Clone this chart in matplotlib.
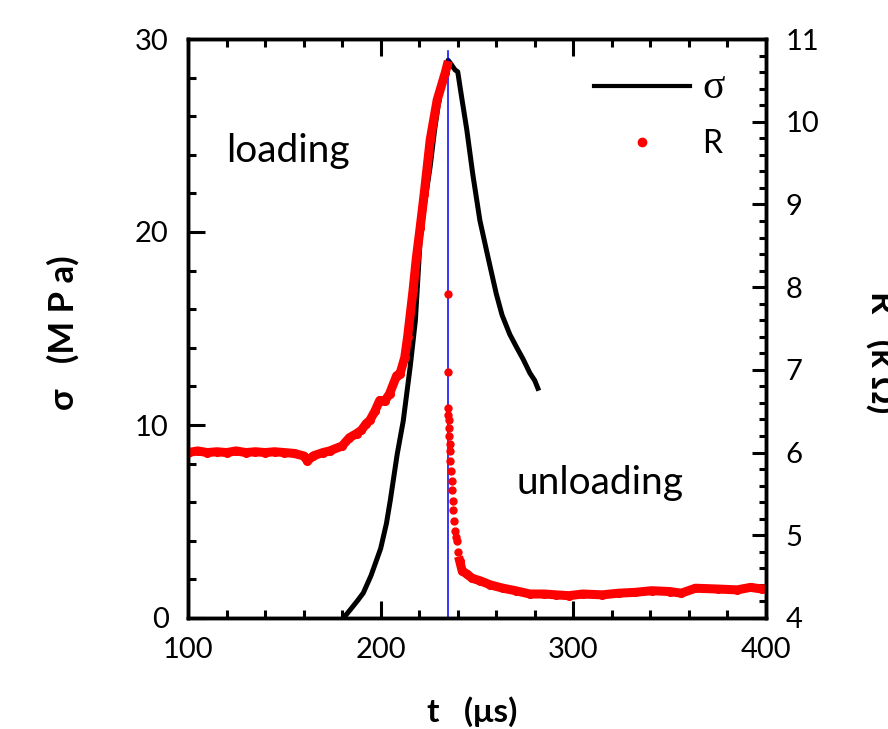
import matplotlib.pyplot as plt
import matplotlib.ticker as mt

plt.rcParams['font.family'] = ['Lato', 'DejaVu Sans']

# stress sigma (MPa) vs time (us)
t_sig = [180.7, 184, 188, 191, 195, 200, 203, 205, 208.6, 211.7, 215.3, 218, 220.5,
         223, 225.7, 228, 230.8, 233, 235, 236.5, 238.6, 240, 242, 244.7, 247.8,
         251.5, 255.7, 260, 263, 267, 270.7, 274, 277.4, 280, 281.6]
sig = [0.0, 0.4, 0.9, 1.3, 2.2, 3.6, 4.9, 6.1, 8.5, 10.2, 13.0, 15.4, 19.6,
       21.6, 23.4, 25.3, 27.2, 28.1, 28.9, 28.7, 28.4, 28.3, 27.0, 25.3, 23.0,
       20.6, 18.7, 16.8, 15.7, 14.7, 14.0, 13.4, 12.7, 12.3, 11.9]

# resistance R (kOhm), loading part
t_load = [100, 105, 110, 115, 120, 125, 130, 135, 140, 145, 150, 155, 160, 162, 165,
          170, 173.5, 180, 183.8, 187.5, 190, 192.5, 194.4, 197, 199.5, 202, 204.6,
          208.3, 210, 212.5, 214, 216.8, 218.5, 220.5, 222.6, 225.7, 229.3, 233.5, 234.5]
R_load = [6.00, 6.02, 6.00, 6.01, 6.00, 6.02, 6.00, 6.01, 6.00, 6.01, 6.00, 5.99, 5.96, 5.90, 5.96,
          6.00, 6.02, 6.08, 6.18, 6.23, 6.27, 6.35, 6.39, 6.50, 6.63, 6.62, 6.71,
          6.93, 6.95, 7.15, 7.40, 7.96, 8.35, 8.72, 9.13, 9.78, 10.26, 10.59, 10.68]
# sparse points right after the peak
t_drop = [235, 235, 235, 235.2, 235.3, 235.5, 235.6, 235.8, 236, 236.2, 236.5, 236.8,
          237, 237.3, 237.6, 238, 238.5, 239, 239.7, 240.3, 241]
R_drop = [7.92, 6.97, 6.54, 6.45, 6.39, 6.30, 6.20, 6.10, 6.02, 5.90, 5.78, 5.66,
          5.55, 5.42, 5.30, 5.17, 5.05, 4.98, 4.93, 4.80, 4.69]
# unloading tail
t_tail = [241, 242.3, 244.8, 247.5, 251.6, 257, 263.5, 270, 277.5, 285, 291, 297.6,
          305, 315, 323.5, 332, 340.6, 350, 356, 363.4, 375.3, 385, 392, 398, 400]
R_tail = [4.69, 4.57, 4.53, 4.48, 4.45, 4.40, 4.36, 4.33, 4.29, 4.29, 4.28, 4.27,
          4.29, 4.28, 4.30, 4.31, 4.33, 4.32, 4.30, 4.36, 4.35, 4.34, 4.37, 4.35, 4.36]

t_mark = 235

fig = plt.figure(figsize=(8.88, 7.29), dpi=100)
ax = fig.add_axes([188/888, 1-618/729, (766-188)/888, (618-39)/729])
ax2 = ax.twinx()

ax.plot(t_sig, sig, color='black', lw=3.6)
ax2.plot(t_load, R_load, color='red', lw=6.5, marker='o', ms=5.5, mec='red')
ax2.plot(t_drop, R_drop, color='red', ls='none', marker='o', ms=5)
ax2.plot(t_tail, R_tail, color='red', lw=6.5, marker='o', ms=5.5, mec='red')
ax.axvline(t_mark, ymax=0.98, color='blue', lw=1.1)

ax.set_xlim(100, 400)
ax.set_ylim(0, 30)
ax2.set_ylim(4, 11)
ax.xaxis.set_major_locator(mt.MultipleLocator(100))
ax.xaxis.set_minor_locator(mt.MultipleLocator(20))
ax.yaxis.set_major_locator(mt.MultipleLocator(10))
ax.yaxis.set_minor_locator(mt.MultipleLocator(2))
ax2.yaxis.set_major_locator(mt.MultipleLocator(1))
ax2.yaxis.set_minor_locator(mt.MultipleLocator(0.2))

ax.tick_params(which='both', direction='in', top=True, right=False, width=2.2, labelsize=21, pad=14)
ax.tick_params(which='major', length=12)
ax.tick_params(which='minor', length=6)
ax2.tick_params(which='both', direction='in', width=2.2, labelsize=21, pad=14)
ax2.tick_params(which='major', length=10)
ax2.tick_params(which='minor', length=5)
for a in (ax, ax2):
    for s in a.spines.values():
        s.set_linewidth(2.5)

ax.text(152, 24.2, 'loading', fontsize=28, ha='center', va='center')
ax.text(314, 7.0, 'unloading', fontsize=28, ha='center', va='center')

fig.text(472/888, 1-712/729, 't   (μs)', fontsize=24, fontweight='bold', ha='center', va='center')
fig.text(63/888, 1-333/729, 'σ   (M P a)', fontsize=25, fontweight='bold', rotation=90, ha='center', va='center')
fig.text(882/888, 1-352/729, 'R   (k Ω)', fontsize=25, fontweight='bold', rotation=-90, ha='center', va='center')

h1 = plt.Line2D([], [], color='black', lw=3)
h2 = plt.Line2D([], [], color='red', ls='none', marker='o', ms=6)
leg = ax2.legend([h1, h2], ['σ', 'R'], loc='upper left', bbox_to_anchor=(594/888, 1-68/729),
                 bbox_transform=fig.transFigure, frameon=False, fontsize=23, handlelength=3.0,
                 handletextpad=0.4, labelspacing=0.7, numpoints=1, borderaxespad=0, borderpad=0)
leg.get_texts()[0].set_family('Liberation Serif')
leg.get_texts()[0].set_fontsize(30)

fig.savefig('out.png', dpi=100)
